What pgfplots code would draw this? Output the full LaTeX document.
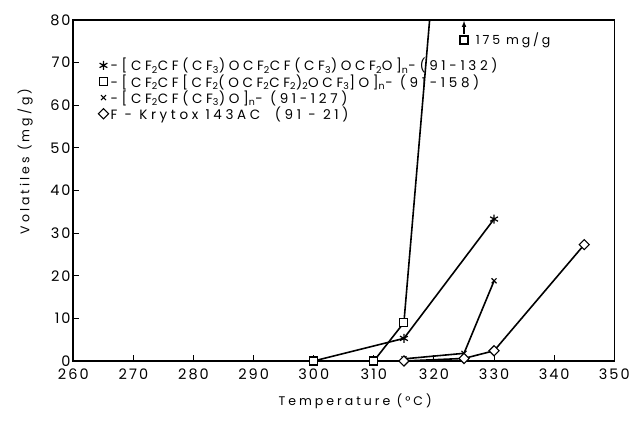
\documentclass[border=0pt]{standalone}
\usepackage{fontspec}
\setmainfont{Poppins}
\usepackage{pgfplots}
\pgfplotsset{compat=1.18}
\usetikzlibrary{calc}

\newcommand{\sub}[1]{\textsubscript{#1}}

\begin{document}
\begin{tikzpicture}
\begin{axis}[
    scale only axis,
    width=541pt, height=341pt,
    xmin=260, xmax=350, ymin=0, ymax=80,
    xtick={260,270,...,350}, ytick={0,10,...,80},
    tick align=inside, xtick pos=bottom, ytick pos=left,
    major tick length=6pt,
    tick style={line width=1pt, black},
    axis line style={line width=1.6pt},
    /pgf/number format/assume math mode=true,
    ticklabel style={font=\fontsize{14.5}{14}\selectfont\addfontfeature{LetterSpace=14}, inner sep=0.5pt},
    xticklabel style={yshift=-7pt},
    yticklabel style={xshift=-2pt},
    xlabel={Temperature (°C)},
    ylabel={Volatiles (mg/g)},
    label style={font=\fontsize{12.5}{14}\selectfont\addfontfeature{LetterSpace=24}},
    xlabel style={at={(axis description cs:0.521,-0.117)}, anchor=center},
    ylabel style={at={(axis description cs:-0.089,0.585)}, anchor=center},
    legend style={draw=none, fill=none, at={(axis description cs:0.046,0.894)},
        anchor=north west, font=\fontsize{13.5}{13}\selectfont\addfontfeature{LetterSpace=27},
        row sep=-2pt, inner sep=0pt, nodes={inner xsep=2pt}},
    legend cell align=left,
    every axis plot/.append style={line width=1.6pt, black},
]
% lines with markers
\addplot[mark=asterisk, mark size=4.5pt, mark options={line width=1.2pt}, forget plot]
  coordinates {(300,0) (315,5.3) (330,33.3)};
\addplot[mark=square*, mark size=4pt, mark indices={1,2,3},
  mark options={fill=white, line width=1.1pt}, forget plot]
  coordinates {(300,0) (310,0) (315,9) (325,175)};
\addplot[mark=x, mark size=3.5pt, mark options={line width=1.1pt}, forget plot]
  coordinates {(315,0.5) (325,1.8) (330,18.8)};
\addplot[mark=square*, mark size=3.6pt,
  mark options={rotate=45, fill=white, line width=1.1pt}, forget plot]
  coordinates {(315,0) (325,0.6) (330,2.4) (345,27.3)};
% off-scale point
\addplot[only marks, mark=square*, mark size=4pt,
  mark options={fill=white, line width=1.1pt}, forget plot]
  coordinates {(325,75.3)};
\addplot[-latex, line width=1.1pt, forget plot]
  coordinates {(325,76.7) (325,79.8)};
\node[anchor=west, font=\fontsize{12.5}{13}\selectfont\addfontfeature{LetterSpace=22}]
  at (axis cs:326.4,75.3) {175 mg/g};
% legend
\addlegendimage{only marks, mark=asterisk, mark size=4.5pt, mark options={line width=1.2pt}}
\addlegendentry{-[CF\sub{2}CF(CF\sub{3})OCF\sub{2}CF(CF\sub{3})OCF\sub{2}O]\sub{n}-(91-132)}
\addlegendimage{only marks, mark=square*, mark size=4pt, mark options={fill=white, line width=1.1pt}}
\addlegendentry{-[CF\sub{2}CF[CF\sub{2}(OCF\sub{2}CF\sub{2})\sub{2}OCF\sub{3}]O]\sub{n}- (91-158)}
\addlegendimage{only marks, mark=x, mark size=3.5pt, mark options={line width=1.1pt}}
\addlegendentry{-[CF\sub{2}CF(CF\sub{3})O]\sub{n}- (91-127)}
\addlegendimage{only marks, mark=square*, mark size=3.6pt, mark options={rotate=45, fill=white, line width=1.1pt}}
\addlegendentry{F - Krytox 143AC \ (91 - 21)}
\end{axis}
\path ($(current axis.south west)+(-73.3pt,-61.7pt)$) rectangle ($(current axis.north east)+(21.7pt,20pt)$);
\end{tikzpicture}
\end{document}
